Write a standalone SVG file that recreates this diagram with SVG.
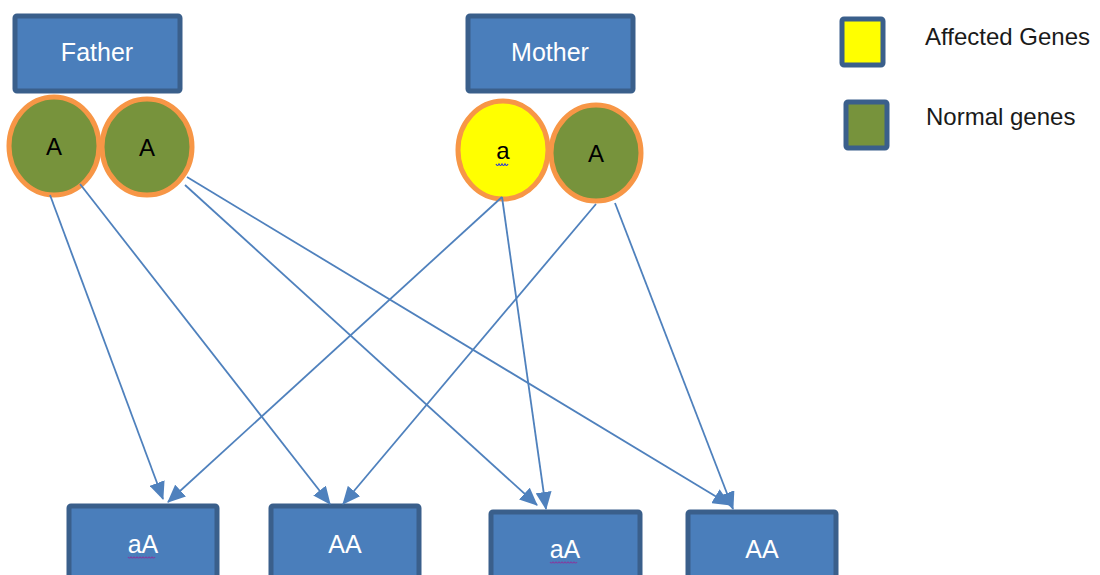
<svg xmlns="http://www.w3.org/2000/svg" width="1100" height="575" viewBox="0 0 1100 575">
<style>
.box{fill:#4a7ebb;stroke:#3a5f8b;stroke-width:5}
.gene{stroke:#f79646;stroke-width:5}
.g{fill:#77933c}
.y{fill:#ffff00}
.leg{stroke:#3a5f8b;stroke-width:5}
.wt{font-family:"Liberation Sans",Arial,sans-serif;font-size:25px;fill:#ffffff;text-anchor:middle}
.bt{font-family:"Liberation Sans",Arial,sans-serif;font-size:24px;fill:#000000;text-anchor:middle}
.lt{font-family:"Liberation Sans",Arial,sans-serif;font-size:24px;fill:#1a1a1a}
.conn line{stroke:#4f81bd;stroke-width:1.8;fill:none;marker-end:url(#ah)}
.sq{fill:none;stroke-width:1.2}
</style>
<defs>
<marker id="ah" markerUnits="userSpaceOnUse" markerWidth="18" markerHeight="16" refX="17" refY="8" orient="auto">
<path d="M0,0 L18,8 L0,16 Z" fill="#4f81bd"/>
</marker>
</defs>
<g id="father">
<rect class="box" x="15" y="16" width="165" height="75" rx="2"/>
<text class="wt" x="97" y="61">Father</text>
</g>
<g id="father-gene-1">
<ellipse class="gene g" cx="54" cy="146" rx="45" ry="49"/>
<text class="bt" x="54" y="155">A</text>
</g>
<g id="father-gene-2">
<ellipse class="gene g" cx="147" cy="147" rx="45" ry="48"/>
<text class="bt" x="147" y="156">A</text>
</g>
<g id="mother">
<rect class="box" x="468" y="16" width="165" height="75" rx="2"/>
<text class="wt" x="550" y="61">Mother</text>
</g>
<g id="mother-gene-1">
<ellipse class="gene y" cx="503" cy="150" rx="45" ry="49"/>
<text class="bt" x="503" y="159">a</text>
<path class="sq" stroke="#2030e0" d="M496,164 q1.5,3 3,0 q1.5,3 3,0 q1.5,3 3,0 q1.5,3 3,0"/>
</g>
<g id="mother-gene-2">
<ellipse class="gene g" cx="596" cy="153" rx="45" ry="48"/>
<text class="bt" x="596" y="162">A</text>
</g>
<g id="legend-affected">
<rect class="leg y" x="842" y="19" width="41" height="46" rx="2"/>
<text class="lt" x="925" y="45">Affected Genes</text>
</g>
<g id="legend-normal">
<rect class="leg g" x="846" y="102" width="41" height="46" rx="2"/>
<text class="lt" x="926" y="125">Normal genes</text>
</g>
<g id="child-1">
<rect class="box" x="69" y="506" width="148" height="75" rx="2"/>
<text class="wt" x="143" y="553">aA</text>
<path class="sq" stroke="#8040a0" d="M128,557 q1.5,2 3,0 q1.5,2 3,0 q1.5,2 3,0 q1.5,2 3,0 q1.5,2 3,0 q1.5,2 3,0 q1.5,2 3,0 q1.5,2 3,0 q1.5,2 3,0"/>
</g>
<g id="child-2">
<rect class="box" x="271" y="506" width="148" height="75" rx="2"/>
<text class="wt" x="345" y="553">AA</text>
</g>
<g id="child-3">
<rect class="box" x="491" y="512" width="149" height="75" rx="2"/>
<text class="wt" x="565" y="558">aA</text>
<path class="sq" stroke="#8040a0" d="M550,562 q1.5,2 3,0 q1.5,2 3,0 q1.5,2 3,0 q1.5,2 3,0 q1.5,2 3,0 q1.5,2 3,0 q1.5,2 3,0 q1.5,2 3,0 q1.5,2 3,0"/>
</g>
<g id="child-4">
<rect class="box" x="688" y="512" width="148" height="75" rx="2"/>
<text class="wt" x="762" y="558">AA</text>
</g>
<g id="connectors" class="conn">
<line x1="50" y1="195" x2="163" y2="499"/>
<line x1="80" y1="184" x2="330" y2="504"/>
<line x1="185" y1="185" x2="537" y2="505"/>
<line x1="187" y1="177" x2="730" y2="505"/>
<line x1="502" y1="197" x2="168" y2="502"/>
<line x1="502" y1="197" x2="546" y2="509"/>
<line x1="596" y1="204" x2="343" y2="504"/>
<line x1="615" y1="203" x2="733" y2="509"/>
</g>
</svg>
